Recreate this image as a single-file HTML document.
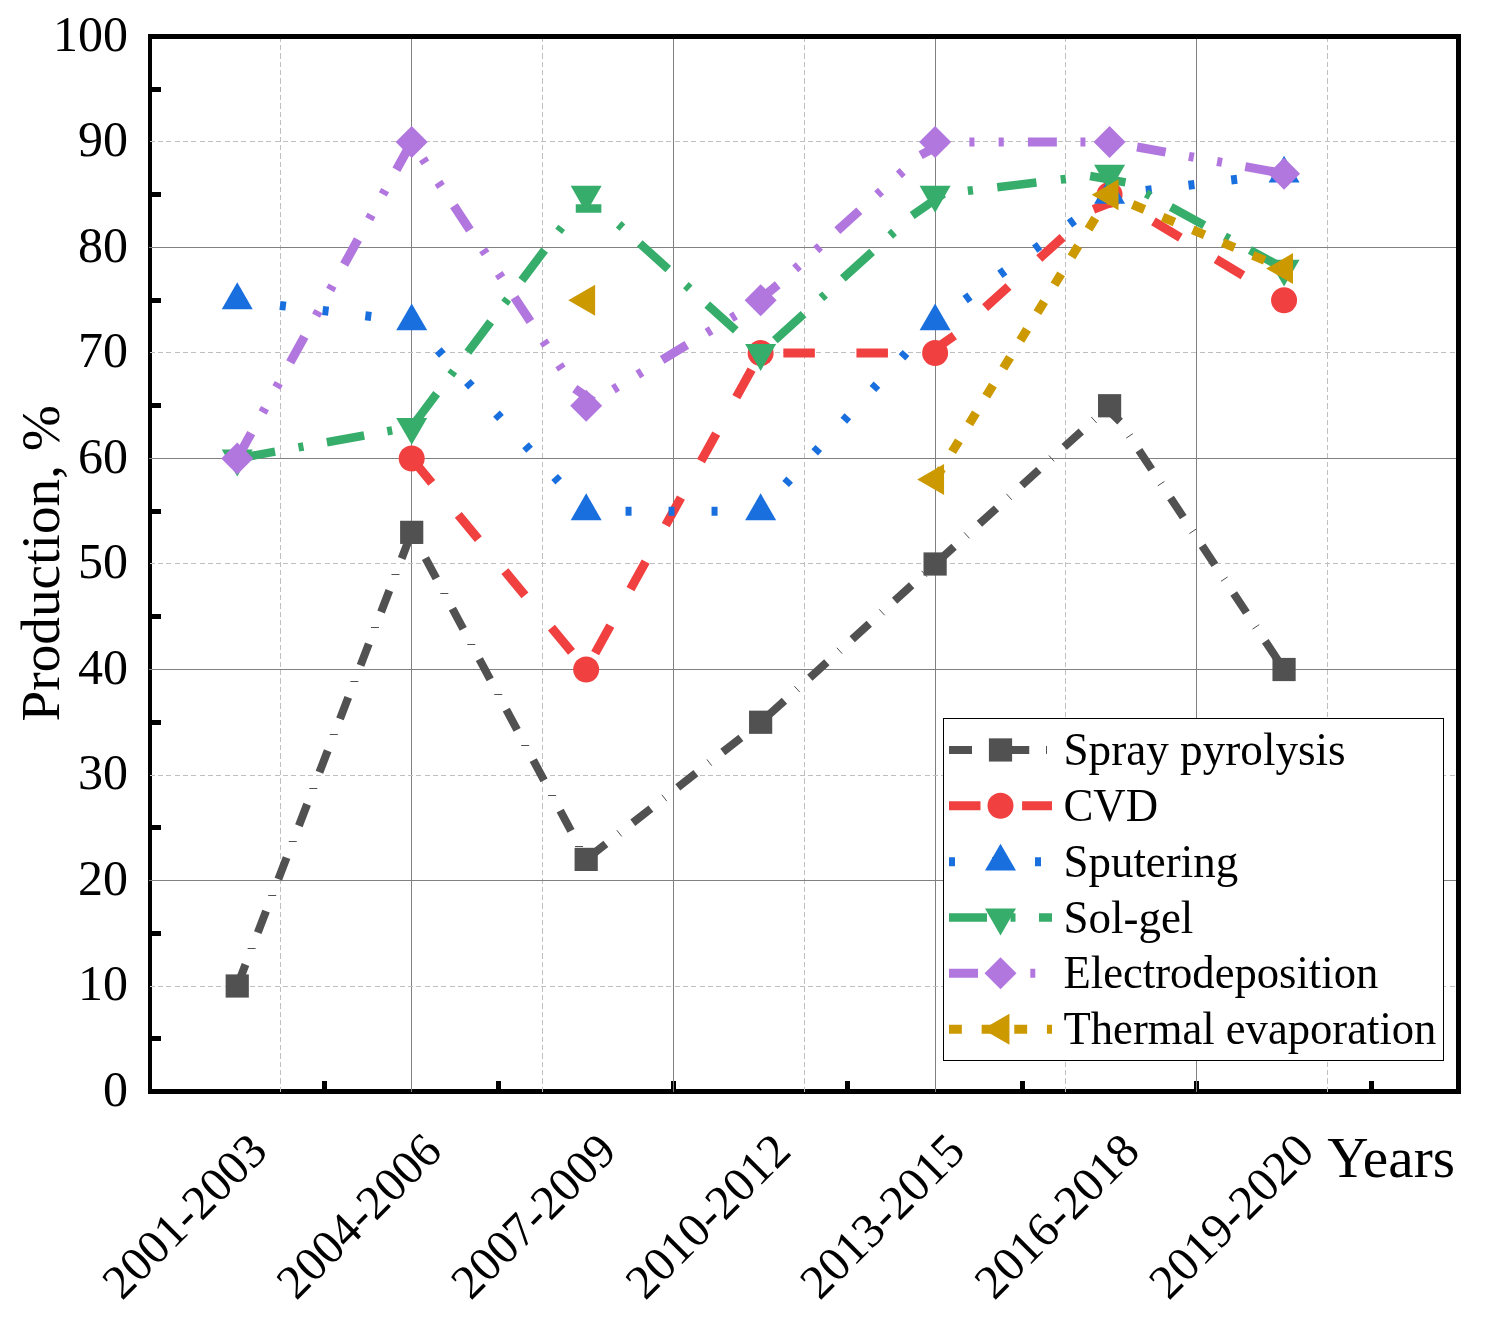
<!DOCTYPE html><html><head><meta charset="utf-8"><style>html,body{margin:0;padding:0;background:#fff;}svg{display:block;}text{font-family:"Liberation Serif",serif;fill:#000;}</style></head><body>
<svg width="1487" height="1342" viewBox="0 0 1487 1342">
<rect width="1487" height="1342" fill="#fff"/>
<rect x="148" y="34" width="4" height="1060" fill="#000"/>
<rect x="1456" y="34" width="5" height="1060" fill="#000"/>
<rect x="148" y="34" width="1313" height="5" fill="#000"/>
<rect x="148" y="1089" width="1313" height="5" fill="#000"/>
<rect x="152" y="1036" width="9" height="5" fill="#000"/>
<rect x="152" y="931" width="9" height="5" fill="#000"/>
<rect x="152" y="825" width="9" height="5" fill="#000"/>
<rect x="152" y="720" width="9" height="5" fill="#000"/>
<rect x="152" y="614" width="9" height="5" fill="#000"/>
<rect x="152" y="509" width="9" height="5" fill="#000"/>
<rect x="152" y="403" width="9" height="5" fill="#000"/>
<rect x="152" y="298" width="9" height="5" fill="#000"/>
<rect x="152" y="192" width="9" height="5" fill="#000"/>
<rect x="152" y="87" width="9" height="5" fill="#000"/>
<rect x="322" y="1081" width="5" height="8" fill="#000"/>
<rect x="496" y="1081" width="5" height="8" fill="#000"/>
<rect x="671" y="1081" width="5" height="8" fill="#000"/>
<rect x="845" y="1081" width="5" height="8" fill="#000"/>
<rect x="1020" y="1081" width="5" height="8" fill="#000"/>
<rect x="1194" y="1081" width="5" height="8" fill="#000"/>
<rect x="1369" y="1081" width="5" height="8" fill="#000"/>
<path d="M280.5 1092V1087M280.5 1084V1078M280.5 1075V1070M280.5 1067V1062M280.5 1059V1053M280.5 1050V1045M280.5 1042V1037M280.5 1034V1028M280.5 1025V1020M280.5 1017V1012M280.5 1009V1003M280.5 1000V995M280.5 992V987M280.5 984V978M280.5 975V970M280.5 967V962M280.5 959V953M280.5 950V945M280.5 942V937M280.5 934V928M280.5 925V920M280.5 917V912M280.5 909V903M280.5 900V895M280.5 892V887M280.5 884V878M280.5 875V870M280.5 867V862M280.5 859V853M280.5 850V845M280.5 842V837M280.5 834V828M280.5 825V820M280.5 817V812M280.5 809V803M280.5 800V795M280.5 792V787M280.5 784V778M280.5 775V770M280.5 767V762M280.5 759V753M280.5 750V745M280.5 742V737M280.5 734V728M280.5 725V720M280.5 717V712M280.5 709V703M280.5 700V695M280.5 692V687M280.5 684V678M280.5 675V670M280.5 667V662M280.5 659V653M280.5 650V645M280.5 642V637M280.5 634V628M280.5 625V620M280.5 617V612M280.5 609V603M280.5 600V595M280.5 592V587M280.5 584V578M280.5 575V570M280.5 567V562M280.5 559V553M280.5 550V545M280.5 542V537M280.5 534V528M280.5 525V520M280.5 517V512M280.5 509V503M280.5 500V495M280.5 492V487M280.5 484V478M280.5 475V470M280.5 467V462M280.5 459V453M280.5 450V445M280.5 442V437M280.5 434V428M280.5 425V420M280.5 417V412M280.5 409V403M280.5 400V395M280.5 392V387M280.5 384V378M280.5 375V370M280.5 367V362M280.5 359V353M280.5 350V345M280.5 342V337M280.5 334V328M280.5 325V320M280.5 317V312M280.5 309V303M280.5 300V295M280.5 292V287M280.5 284V278M280.5 275V270M280.5 267V262M280.5 259V253M280.5 250V245M280.5 242V237M280.5 234V228M280.5 225V220M280.5 217V212M280.5 209V203M280.5 200V195M280.5 192V187M280.5 184V178M280.5 175V170M280.5 167V162M280.5 159V153M280.5 150V145M280.5 142V137M280.5 134V128M280.5 125V120M280.5 117V112M280.5 109V103M280.5 100V95M280.5 92V87M280.5 84V78M280.5 75V70M280.5 67V62M280.5 59V53M280.5 50V45M280.5 42V39" stroke="#c0c0c0" stroke-width="1" fill="none"/>
<line x1="411.5" y1="1092" x2="411.5" y2="39" stroke="#808080" stroke-width="1"/>
<path d="M542.5 1092V1087M542.5 1084V1078M542.5 1075V1070M542.5 1067V1062M542.5 1059V1053M542.5 1050V1045M542.5 1042V1037M542.5 1034V1028M542.5 1025V1020M542.5 1017V1012M542.5 1009V1003M542.5 1000V995M542.5 992V987M542.5 984V978M542.5 975V970M542.5 967V962M542.5 959V953M542.5 950V945M542.5 942V937M542.5 934V928M542.5 925V920M542.5 917V912M542.5 909V903M542.5 900V895M542.5 892V887M542.5 884V878M542.5 875V870M542.5 867V862M542.5 859V853M542.5 850V845M542.5 842V837M542.5 834V828M542.5 825V820M542.5 817V812M542.5 809V803M542.5 800V795M542.5 792V787M542.5 784V778M542.5 775V770M542.5 767V762M542.5 759V753M542.5 750V745M542.5 742V737M542.5 734V728M542.5 725V720M542.5 717V712M542.5 709V703M542.5 700V695M542.5 692V687M542.5 684V678M542.5 675V670M542.5 667V662M542.5 659V653M542.5 650V645M542.5 642V637M542.5 634V628M542.5 625V620M542.5 617V612M542.5 609V603M542.5 600V595M542.5 592V587M542.5 584V578M542.5 575V570M542.5 567V562M542.5 559V553M542.5 550V545M542.5 542V537M542.5 534V528M542.5 525V520M542.5 517V512M542.5 509V503M542.5 500V495M542.5 492V487M542.5 484V478M542.5 475V470M542.5 467V462M542.5 459V453M542.5 450V445M542.5 442V437M542.5 434V428M542.5 425V420M542.5 417V412M542.5 409V403M542.5 400V395M542.5 392V387M542.5 384V378M542.5 375V370M542.5 367V362M542.5 359V353M542.5 350V345M542.5 342V337M542.5 334V328M542.5 325V320M542.5 317V312M542.5 309V303M542.5 300V295M542.5 292V287M542.5 284V278M542.5 275V270M542.5 267V262M542.5 259V253M542.5 250V245M542.5 242V237M542.5 234V228M542.5 225V220M542.5 217V212M542.5 209V203M542.5 200V195M542.5 192V187M542.5 184V178M542.5 175V170M542.5 167V162M542.5 159V153M542.5 150V145M542.5 142V137M542.5 134V128M542.5 125V120M542.5 117V112M542.5 109V103M542.5 100V95M542.5 92V87M542.5 84V78M542.5 75V70M542.5 67V62M542.5 59V53M542.5 50V45M542.5 42V39" stroke="#c0c0c0" stroke-width="1" fill="none"/>
<line x1="673.5" y1="1092" x2="673.5" y2="39" stroke="#808080" stroke-width="1"/>
<path d="M804.5 1092V1087M804.5 1084V1078M804.5 1075V1070M804.5 1067V1062M804.5 1059V1053M804.5 1050V1045M804.5 1042V1037M804.5 1034V1028M804.5 1025V1020M804.5 1017V1012M804.5 1009V1003M804.5 1000V995M804.5 992V987M804.5 984V978M804.5 975V970M804.5 967V962M804.5 959V953M804.5 950V945M804.5 942V937M804.5 934V928M804.5 925V920M804.5 917V912M804.5 909V903M804.5 900V895M804.5 892V887M804.5 884V878M804.5 875V870M804.5 867V862M804.5 859V853M804.5 850V845M804.5 842V837M804.5 834V828M804.5 825V820M804.5 817V812M804.5 809V803M804.5 800V795M804.5 792V787M804.5 784V778M804.5 775V770M804.5 767V762M804.5 759V753M804.5 750V745M804.5 742V737M804.5 734V728M804.5 725V720M804.5 717V712M804.5 709V703M804.5 700V695M804.5 692V687M804.5 684V678M804.5 675V670M804.5 667V662M804.5 659V653M804.5 650V645M804.5 642V637M804.5 634V628M804.5 625V620M804.5 617V612M804.5 609V603M804.5 600V595M804.5 592V587M804.5 584V578M804.5 575V570M804.5 567V562M804.5 559V553M804.5 550V545M804.5 542V537M804.5 534V528M804.5 525V520M804.5 517V512M804.5 509V503M804.5 500V495M804.5 492V487M804.5 484V478M804.5 475V470M804.5 467V462M804.5 459V453M804.5 450V445M804.5 442V437M804.5 434V428M804.5 425V420M804.5 417V412M804.5 409V403M804.5 400V395M804.5 392V387M804.5 384V378M804.5 375V370M804.5 367V362M804.5 359V353M804.5 350V345M804.5 342V337M804.5 334V328M804.5 325V320M804.5 317V312M804.5 309V303M804.5 300V295M804.5 292V287M804.5 284V278M804.5 275V270M804.5 267V262M804.5 259V253M804.5 250V245M804.5 242V237M804.5 234V228M804.5 225V220M804.5 217V212M804.5 209V203M804.5 200V195M804.5 192V187M804.5 184V178M804.5 175V170M804.5 167V162M804.5 159V153M804.5 150V145M804.5 142V137M804.5 134V128M804.5 125V120M804.5 117V112M804.5 109V103M804.5 100V95M804.5 92V87M804.5 84V78M804.5 75V70M804.5 67V62M804.5 59V53M804.5 50V45M804.5 42V39" stroke="#c0c0c0" stroke-width="1" fill="none"/>
<line x1="935.5" y1="1092" x2="935.5" y2="39" stroke="#808080" stroke-width="1"/>
<path d="M1065.5 1092V1087M1065.5 1084V1078M1065.5 1075V1070M1065.5 1067V1062M1065.5 1059V1053M1065.5 1050V1045M1065.5 1042V1037M1065.5 1034V1028M1065.5 1025V1020M1065.5 1017V1012M1065.5 1009V1003M1065.5 1000V995M1065.5 992V987M1065.5 984V978M1065.5 975V970M1065.5 967V962M1065.5 959V953M1065.5 950V945M1065.5 942V937M1065.5 934V928M1065.5 925V920M1065.5 917V912M1065.5 909V903M1065.5 900V895M1065.5 892V887M1065.5 884V878M1065.5 875V870M1065.5 867V862M1065.5 859V853M1065.5 850V845M1065.5 842V837M1065.5 834V828M1065.5 825V820M1065.5 817V812M1065.5 809V803M1065.5 800V795M1065.5 792V787M1065.5 784V778M1065.5 775V770M1065.5 767V762M1065.5 759V753M1065.5 750V745M1065.5 742V737M1065.5 734V728M1065.5 725V720M1065.5 717V712M1065.5 709V703M1065.5 700V695M1065.5 692V687M1065.5 684V678M1065.5 675V670M1065.5 667V662M1065.5 659V653M1065.5 650V645M1065.5 642V637M1065.5 634V628M1065.5 625V620M1065.5 617V612M1065.5 609V603M1065.5 600V595M1065.5 592V587M1065.5 584V578M1065.5 575V570M1065.5 567V562M1065.5 559V553M1065.5 550V545M1065.5 542V537M1065.5 534V528M1065.5 525V520M1065.5 517V512M1065.5 509V503M1065.5 500V495M1065.5 492V487M1065.5 484V478M1065.5 475V470M1065.5 467V462M1065.5 459V453M1065.5 450V445M1065.5 442V437M1065.5 434V428M1065.5 425V420M1065.5 417V412M1065.5 409V403M1065.5 400V395M1065.5 392V387M1065.5 384V378M1065.5 375V370M1065.5 367V362M1065.5 359V353M1065.5 350V345M1065.5 342V337M1065.5 334V328M1065.5 325V320M1065.5 317V312M1065.5 309V303M1065.5 300V295M1065.5 292V287M1065.5 284V278M1065.5 275V270M1065.5 267V262M1065.5 259V253M1065.5 250V245M1065.5 242V237M1065.5 234V228M1065.5 225V220M1065.5 217V212M1065.5 209V203M1065.5 200V195M1065.5 192V187M1065.5 184V178M1065.5 175V170M1065.5 167V162M1065.5 159V153M1065.5 150V145M1065.5 142V137M1065.5 134V128M1065.5 125V120M1065.5 117V112M1065.5 109V103M1065.5 100V95M1065.5 92V87M1065.5 84V78M1065.5 75V70M1065.5 67V62M1065.5 59V53M1065.5 50V45M1065.5 42V39" stroke="#c0c0c0" stroke-width="1" fill="none"/>
<line x1="1196.5" y1="1092" x2="1196.5" y2="39" stroke="#808080" stroke-width="1"/>
<path d="M1327.5 1092V1087M1327.5 1084V1078M1327.5 1075V1070M1327.5 1067V1062M1327.5 1059V1053M1327.5 1050V1045M1327.5 1042V1037M1327.5 1034V1028M1327.5 1025V1020M1327.5 1017V1012M1327.5 1009V1003M1327.5 1000V995M1327.5 992V987M1327.5 984V978M1327.5 975V970M1327.5 967V962M1327.5 959V953M1327.5 950V945M1327.5 942V937M1327.5 934V928M1327.5 925V920M1327.5 917V912M1327.5 909V903M1327.5 900V895M1327.5 892V887M1327.5 884V878M1327.5 875V870M1327.5 867V862M1327.5 859V853M1327.5 850V845M1327.5 842V837M1327.5 834V828M1327.5 825V820M1327.5 817V812M1327.5 809V803M1327.5 800V795M1327.5 792V787M1327.5 784V778M1327.5 775V770M1327.5 767V762M1327.5 759V753M1327.5 750V745M1327.5 742V737M1327.5 734V728M1327.5 725V720M1327.5 717V712M1327.5 709V703M1327.5 700V695M1327.5 692V687M1327.5 684V678M1327.5 675V670M1327.5 667V662M1327.5 659V653M1327.5 650V645M1327.5 642V637M1327.5 634V628M1327.5 625V620M1327.5 617V612M1327.5 609V603M1327.5 600V595M1327.5 592V587M1327.5 584V578M1327.5 575V570M1327.5 567V562M1327.5 559V553M1327.5 550V545M1327.5 542V537M1327.5 534V528M1327.5 525V520M1327.5 517V512M1327.5 509V503M1327.5 500V495M1327.5 492V487M1327.5 484V478M1327.5 475V470M1327.5 467V462M1327.5 459V453M1327.5 450V445M1327.5 442V437M1327.5 434V428M1327.5 425V420M1327.5 417V412M1327.5 409V403M1327.5 400V395M1327.5 392V387M1327.5 384V378M1327.5 375V370M1327.5 367V362M1327.5 359V353M1327.5 350V345M1327.5 342V337M1327.5 334V328M1327.5 325V320M1327.5 317V312M1327.5 309V303M1327.5 300V295M1327.5 292V287M1327.5 284V278M1327.5 275V270M1327.5 267V262M1327.5 259V253M1327.5 250V245M1327.5 242V237M1327.5 234V228M1327.5 225V220M1327.5 217V212M1327.5 209V203M1327.5 200V195M1327.5 192V187M1327.5 184V178M1327.5 175V170M1327.5 167V162M1327.5 159V153M1327.5 150V145M1327.5 142V137M1327.5 134V128M1327.5 125V120M1327.5 117V112M1327.5 109V103M1327.5 100V95M1327.5 92V87M1327.5 84V78M1327.5 75V70M1327.5 67V62M1327.5 59V53M1327.5 50V45M1327.5 42V39" stroke="#c0c0c0" stroke-width="1" fill="none"/>
<path d="M150 986.5H155M158 986.5H163M166 986.5H171M175 986.5H180M183 986.5H188M191 986.5H196M200 986.5H205M208 986.5H213M216 986.5H221M225 986.5H230M233 986.5H238M241 986.5H246M250 986.5H255M258 986.5H263M266 986.5H271M275 986.5H280M283 986.5H288M291 986.5H296M300 986.5H305M308 986.5H313M316 986.5H321M325 986.5H330M333 986.5H338M341 986.5H346M350 986.5H355M358 986.5H363M366 986.5H371M375 986.5H380M383 986.5H388M391 986.5H396M400 986.5H405M408 986.5H413M416 986.5H421M425 986.5H430M433 986.5H438M441 986.5H446M450 986.5H455M458 986.5H463M466 986.5H471M475 986.5H480M483 986.5H488M491 986.5H496M500 986.5H505M508 986.5H513M516 986.5H521M525 986.5H530M533 986.5H538M541 986.5H546M550 986.5H555M558 986.5H563M566 986.5H571M575 986.5H580M583 986.5H588M591 986.5H596M600 986.5H605M608 986.5H613M616 986.5H621M625 986.5H630M633 986.5H638M641 986.5H646M650 986.5H655M658 986.5H663M666 986.5H671M675 986.5H680M683 986.5H688M691 986.5H696M700 986.5H705M708 986.5H713M716 986.5H721M725 986.5H730M733 986.5H738M741 986.5H746M750 986.5H755M758 986.5H763M766 986.5H771M775 986.5H780M783 986.5H788M791 986.5H796M800 986.5H805M808 986.5H813M816 986.5H821M825 986.5H830M833 986.5H838M841 986.5H846M850 986.5H855M858 986.5H863M866 986.5H871M875 986.5H880M883 986.5H888M891 986.5H896M900 986.5H905M908 986.5H913M916 986.5H921M925 986.5H930M933 986.5H938M941 986.5H946M950 986.5H955M958 986.5H963M966 986.5H971M975 986.5H980M983 986.5H988M991 986.5H996M1000 986.5H1005M1008 986.5H1013M1016 986.5H1021M1025 986.5H1030M1033 986.5H1038M1041 986.5H1046M1050 986.5H1055M1058 986.5H1063M1066 986.5H1071M1075 986.5H1080M1083 986.5H1088M1091 986.5H1096M1100 986.5H1105M1108 986.5H1113M1116 986.5H1121M1125 986.5H1130M1133 986.5H1138M1141 986.5H1146M1150 986.5H1155M1158 986.5H1163M1166 986.5H1171M1175 986.5H1180M1183 986.5H1188M1191 986.5H1196M1200 986.5H1205M1208 986.5H1213M1216 986.5H1221M1225 986.5H1230M1233 986.5H1238M1241 986.5H1246M1250 986.5H1255M1258 986.5H1263M1266 986.5H1271M1275 986.5H1280M1283 986.5H1288M1291 986.5H1296M1300 986.5H1305M1308 986.5H1313M1316 986.5H1321M1325 986.5H1330M1333 986.5H1338M1341 986.5H1346M1350 986.5H1355M1358 986.5H1363M1366 986.5H1371M1375 986.5H1380M1383 986.5H1388M1391 986.5H1396M1400 986.5H1405M1408 986.5H1413M1416 986.5H1421M1425 986.5H1430M1433 986.5H1438M1441 986.5H1446M1450 986.5H1455" stroke="#c0c0c0" stroke-width="1" fill="none"/>
<line x1="149" y1="880.5" x2="1456" y2="880.5" stroke="#808080" stroke-width="1"/>
<path d="M150 775.5H155M158 775.5H163M166 775.5H171M175 775.5H180M183 775.5H188M191 775.5H196M200 775.5H205M208 775.5H213M216 775.5H221M225 775.5H230M233 775.5H238M241 775.5H246M250 775.5H255M258 775.5H263M266 775.5H271M275 775.5H280M283 775.5H288M291 775.5H296M300 775.5H305M308 775.5H313M316 775.5H321M325 775.5H330M333 775.5H338M341 775.5H346M350 775.5H355M358 775.5H363M366 775.5H371M375 775.5H380M383 775.5H388M391 775.5H396M400 775.5H405M408 775.5H413M416 775.5H421M425 775.5H430M433 775.5H438M441 775.5H446M450 775.5H455M458 775.5H463M466 775.5H471M475 775.5H480M483 775.5H488M491 775.5H496M500 775.5H505M508 775.5H513M516 775.5H521M525 775.5H530M533 775.5H538M541 775.5H546M550 775.5H555M558 775.5H563M566 775.5H571M575 775.5H580M583 775.5H588M591 775.5H596M600 775.5H605M608 775.5H613M616 775.5H621M625 775.5H630M633 775.5H638M641 775.5H646M650 775.5H655M658 775.5H663M666 775.5H671M675 775.5H680M683 775.5H688M691 775.5H696M700 775.5H705M708 775.5H713M716 775.5H721M725 775.5H730M733 775.5H738M741 775.5H746M750 775.5H755M758 775.5H763M766 775.5H771M775 775.5H780M783 775.5H788M791 775.5H796M800 775.5H805M808 775.5H813M816 775.5H821M825 775.5H830M833 775.5H838M841 775.5H846M850 775.5H855M858 775.5H863M866 775.5H871M875 775.5H880M883 775.5H888M891 775.5H896M900 775.5H905M908 775.5H913M916 775.5H921M925 775.5H930M933 775.5H938M941 775.5H946M950 775.5H955M958 775.5H963M966 775.5H971M975 775.5H980M983 775.5H988M991 775.5H996M1000 775.5H1005M1008 775.5H1013M1016 775.5H1021M1025 775.5H1030M1033 775.5H1038M1041 775.5H1046M1050 775.5H1055M1058 775.5H1063M1066 775.5H1071M1075 775.5H1080M1083 775.5H1088M1091 775.5H1096M1100 775.5H1105M1108 775.5H1113M1116 775.5H1121M1125 775.5H1130M1133 775.5H1138M1141 775.5H1146M1150 775.5H1155M1158 775.5H1163M1166 775.5H1171M1175 775.5H1180M1183 775.5H1188M1191 775.5H1196M1200 775.5H1205M1208 775.5H1213M1216 775.5H1221M1225 775.5H1230M1233 775.5H1238M1241 775.5H1246M1250 775.5H1255M1258 775.5H1263M1266 775.5H1271M1275 775.5H1280M1283 775.5H1288M1291 775.5H1296M1300 775.5H1305M1308 775.5H1313M1316 775.5H1321M1325 775.5H1330M1333 775.5H1338M1341 775.5H1346M1350 775.5H1355M1358 775.5H1363M1366 775.5H1371M1375 775.5H1380M1383 775.5H1388M1391 775.5H1396M1400 775.5H1405M1408 775.5H1413M1416 775.5H1421M1425 775.5H1430M1433 775.5H1438M1441 775.5H1446M1450 775.5H1455" stroke="#c0c0c0" stroke-width="1" fill="none"/>
<line x1="149" y1="669.5" x2="1456" y2="669.5" stroke="#808080" stroke-width="1"/>
<path d="M150 563.5H155M158 563.5H163M166 563.5H171M175 563.5H180M183 563.5H188M191 563.5H196M200 563.5H205M208 563.5H213M216 563.5H221M225 563.5H230M233 563.5H238M241 563.5H246M250 563.5H255M258 563.5H263M266 563.5H271M275 563.5H280M283 563.5H288M291 563.5H296M300 563.5H305M308 563.5H313M316 563.5H321M325 563.5H330M333 563.5H338M341 563.5H346M350 563.5H355M358 563.5H363M366 563.5H371M375 563.5H380M383 563.5H388M391 563.5H396M400 563.5H405M408 563.5H413M416 563.5H421M425 563.5H430M433 563.5H438M441 563.5H446M450 563.5H455M458 563.5H463M466 563.5H471M475 563.5H480M483 563.5H488M491 563.5H496M500 563.5H505M508 563.5H513M516 563.5H521M525 563.5H530M533 563.5H538M541 563.5H546M550 563.5H555M558 563.5H563M566 563.5H571M575 563.5H580M583 563.5H588M591 563.5H596M600 563.5H605M608 563.5H613M616 563.5H621M625 563.5H630M633 563.5H638M641 563.5H646M650 563.5H655M658 563.5H663M666 563.5H671M675 563.5H680M683 563.5H688M691 563.5H696M700 563.5H705M708 563.5H713M716 563.5H721M725 563.5H730M733 563.5H738M741 563.5H746M750 563.5H755M758 563.5H763M766 563.5H771M775 563.5H780M783 563.5H788M791 563.5H796M800 563.5H805M808 563.5H813M816 563.5H821M825 563.5H830M833 563.5H838M841 563.5H846M850 563.5H855M858 563.5H863M866 563.5H871M875 563.5H880M883 563.5H888M891 563.5H896M900 563.5H905M908 563.5H913M916 563.5H921M925 563.5H930M933 563.5H938M941 563.5H946M950 563.5H955M958 563.5H963M966 563.5H971M975 563.5H980M983 563.5H988M991 563.5H996M1000 563.5H1005M1008 563.5H1013M1016 563.5H1021M1025 563.5H1030M1033 563.5H1038M1041 563.5H1046M1050 563.5H1055M1058 563.5H1063M1066 563.5H1071M1075 563.5H1080M1083 563.5H1088M1091 563.5H1096M1100 563.5H1105M1108 563.5H1113M1116 563.5H1121M1125 563.5H1130M1133 563.5H1138M1141 563.5H1146M1150 563.5H1155M1158 563.5H1163M1166 563.5H1171M1175 563.5H1180M1183 563.5H1188M1191 563.5H1196M1200 563.5H1205M1208 563.5H1213M1216 563.5H1221M1225 563.5H1230M1233 563.5H1238M1241 563.5H1246M1250 563.5H1255M1258 563.5H1263M1266 563.5H1271M1275 563.5H1280M1283 563.5H1288M1291 563.5H1296M1300 563.5H1305M1308 563.5H1313M1316 563.5H1321M1325 563.5H1330M1333 563.5H1338M1341 563.5H1346M1350 563.5H1355M1358 563.5H1363M1366 563.5H1371M1375 563.5H1380M1383 563.5H1388M1391 563.5H1396M1400 563.5H1405M1408 563.5H1413M1416 563.5H1421M1425 563.5H1430M1433 563.5H1438M1441 563.5H1446M1450 563.5H1455" stroke="#c0c0c0" stroke-width="1" fill="none"/>
<line x1="149" y1="458.5" x2="1456" y2="458.5" stroke="#808080" stroke-width="1"/>
<path d="M150 352.5H155M158 352.5H163M166 352.5H171M175 352.5H180M183 352.5H188M191 352.5H196M200 352.5H205M208 352.5H213M216 352.5H221M225 352.5H230M233 352.5H238M241 352.5H246M250 352.5H255M258 352.5H263M266 352.5H271M275 352.5H280M283 352.5H288M291 352.5H296M300 352.5H305M308 352.5H313M316 352.5H321M325 352.5H330M333 352.5H338M341 352.5H346M350 352.5H355M358 352.5H363M366 352.5H371M375 352.5H380M383 352.5H388M391 352.5H396M400 352.5H405M408 352.5H413M416 352.5H421M425 352.5H430M433 352.5H438M441 352.5H446M450 352.5H455M458 352.5H463M466 352.5H471M475 352.5H480M483 352.5H488M491 352.5H496M500 352.5H505M508 352.5H513M516 352.5H521M525 352.5H530M533 352.5H538M541 352.5H546M550 352.5H555M558 352.5H563M566 352.5H571M575 352.5H580M583 352.5H588M591 352.5H596M600 352.5H605M608 352.5H613M616 352.5H621M625 352.5H630M633 352.5H638M641 352.5H646M650 352.5H655M658 352.5H663M666 352.5H671M675 352.5H680M683 352.5H688M691 352.5H696M700 352.5H705M708 352.5H713M716 352.5H721M725 352.5H730M733 352.5H738M741 352.5H746M750 352.5H755M758 352.5H763M766 352.5H771M775 352.5H780M783 352.5H788M791 352.5H796M800 352.5H805M808 352.5H813M816 352.5H821M825 352.5H830M833 352.5H838M841 352.5H846M850 352.5H855M858 352.5H863M866 352.5H871M875 352.5H880M883 352.5H888M891 352.5H896M900 352.5H905M908 352.5H913M916 352.5H921M925 352.5H930M933 352.5H938M941 352.5H946M950 352.5H955M958 352.5H963M966 352.5H971M975 352.5H980M983 352.5H988M991 352.5H996M1000 352.5H1005M1008 352.5H1013M1016 352.5H1021M1025 352.5H1030M1033 352.5H1038M1041 352.5H1046M1050 352.5H1055M1058 352.5H1063M1066 352.5H1071M1075 352.5H1080M1083 352.5H1088M1091 352.5H1096M1100 352.5H1105M1108 352.5H1113M1116 352.5H1121M1125 352.5H1130M1133 352.5H1138M1141 352.5H1146M1150 352.5H1155M1158 352.5H1163M1166 352.5H1171M1175 352.5H1180M1183 352.5H1188M1191 352.5H1196M1200 352.5H1205M1208 352.5H1213M1216 352.5H1221M1225 352.5H1230M1233 352.5H1238M1241 352.5H1246M1250 352.5H1255M1258 352.5H1263M1266 352.5H1271M1275 352.5H1280M1283 352.5H1288M1291 352.5H1296M1300 352.5H1305M1308 352.5H1313M1316 352.5H1321M1325 352.5H1330M1333 352.5H1338M1341 352.5H1346M1350 352.5H1355M1358 352.5H1363M1366 352.5H1371M1375 352.5H1380M1383 352.5H1388M1391 352.5H1396M1400 352.5H1405M1408 352.5H1413M1416 352.5H1421M1425 352.5H1430M1433 352.5H1438M1441 352.5H1446M1450 352.5H1455" stroke="#c0c0c0" stroke-width="1" fill="none"/>
<line x1="149" y1="247.5" x2="1456" y2="247.5" stroke="#808080" stroke-width="1"/>
<path d="M150 141.5H155M158 141.5H163M166 141.5H171M175 141.5H180M183 141.5H188M191 141.5H196M200 141.5H205M208 141.5H213M216 141.5H221M225 141.5H230M233 141.5H238M241 141.5H246M250 141.5H255M258 141.5H263M266 141.5H271M275 141.5H280M283 141.5H288M291 141.5H296M300 141.5H305M308 141.5H313M316 141.5H321M325 141.5H330M333 141.5H338M341 141.5H346M350 141.5H355M358 141.5H363M366 141.5H371M375 141.5H380M383 141.5H388M391 141.5H396M400 141.5H405M408 141.5H413M416 141.5H421M425 141.5H430M433 141.5H438M441 141.5H446M450 141.5H455M458 141.5H463M466 141.5H471M475 141.5H480M483 141.5H488M491 141.5H496M500 141.5H505M508 141.5H513M516 141.5H521M525 141.5H530M533 141.5H538M541 141.5H546M550 141.5H555M558 141.5H563M566 141.5H571M575 141.5H580M583 141.5H588M591 141.5H596M600 141.5H605M608 141.5H613M616 141.5H621M625 141.5H630M633 141.5H638M641 141.5H646M650 141.5H655M658 141.5H663M666 141.5H671M675 141.5H680M683 141.5H688M691 141.5H696M700 141.5H705M708 141.5H713M716 141.5H721M725 141.5H730M733 141.5H738M741 141.5H746M750 141.5H755M758 141.5H763M766 141.5H771M775 141.5H780M783 141.5H788M791 141.5H796M800 141.5H805M808 141.5H813M816 141.5H821M825 141.5H830M833 141.5H838M841 141.5H846M850 141.5H855M858 141.5H863M866 141.5H871M875 141.5H880M883 141.5H888M891 141.5H896M900 141.5H905M908 141.5H913M916 141.5H921M925 141.5H930M933 141.5H938M941 141.5H946M950 141.5H955M958 141.5H963M966 141.5H971M975 141.5H980M983 141.5H988M991 141.5H996M1000 141.5H1005M1008 141.5H1013M1016 141.5H1021M1025 141.5H1030M1033 141.5H1038M1041 141.5H1046M1050 141.5H1055M1058 141.5H1063M1066 141.5H1071M1075 141.5H1080M1083 141.5H1088M1091 141.5H1096M1100 141.5H1105M1108 141.5H1113M1116 141.5H1121M1125 141.5H1130M1133 141.5H1138M1141 141.5H1146M1150 141.5H1155M1158 141.5H1163M1166 141.5H1171M1175 141.5H1180M1183 141.5H1188M1191 141.5H1196M1200 141.5H1205M1208 141.5H1213M1216 141.5H1221M1225 141.5H1230M1233 141.5H1238M1241 141.5H1246M1250 141.5H1255M1258 141.5H1263M1266 141.5H1271M1275 141.5H1280M1283 141.5H1288M1291 141.5H1296M1300 141.5H1305M1308 141.5H1313M1316 141.5H1321M1325 141.5H1330M1333 141.5H1338M1341 141.5H1346M1350 141.5H1355M1358 141.5H1363M1366 141.5H1371M1375 141.5H1380M1383 141.5H1388M1391 141.5H1396M1400 141.5H1405M1408 141.5H1413M1416 141.5H1421M1425 141.5H1430M1433 141.5H1438M1441 141.5H1446M1450 141.5H1455" stroke="#c0c0c0" stroke-width="1" fill="none"/>
<path d="M237.24 986.00L245.49 964.53M257.79 932.57L266.04 911.10M278.34 879.13L286.59 857.66M298.89 825.70L307.14 804.23M319.44 772.26L327.69 750.80M339.99 718.83L348.24 697.36M360.54 665.39L368.79 643.93M381.09 611.96L389.34 590.49M401.64 558.52L409.89 537.06M425.45 558.12L436.28 578.41M452.40 608.63L463.22 628.92M479.34 659.14L490.17 679.44M506.29 709.65L517.12 729.95M533.24 760.17L544.06 780.46M560.18 810.68L571.01 830.97M587.77 858.15L605.85 843.93M632.78 822.76L650.86 808.55M677.79 787.38L695.87 773.17M722.80 752.00L740.88 737.79M767.39 716.13L784.43 700.68M809.80 677.67L826.83 662.22M852.20 639.21L869.24 623.75M894.61 600.74L911.64 585.29M937.01 562.28L954.05 546.83M979.42 523.82L996.45 508.37M1021.82 485.36L1038.86 469.90M1064.23 446.89L1081.26 431.44M1106.63 408.43L1120.07 421.61M1138.97 450.17L1151.66 469.35M1170.55 497.92L1183.24 517.10M1202.14 545.67L1214.83 564.85M1233.73 593.42L1246.42 612.60M1265.31 641.17L1278.00 660.35" stroke="#515151" stroke-width="8" fill="none" stroke-linecap="butt"/><path d="M247.64 948.50L255.64 948.50M268.19 895.50L276.19 895.50M288.74 841.50L296.74 841.50M309.29 788.50L317.29 788.50M329.84 734.50L337.84 734.50M350.39 681.50L358.39 681.50M370.94 627.50L378.94 627.50M391.49 574.50L399.49 574.50M413.39 543.50L421.39 543.50M440.34 593.50L448.34 593.50M467.28 644.50L475.28 644.50M494.23 694.50L502.23 694.50M521.18 745.50L529.18 745.50M548.12 795.50L556.12 795.50M575.07 846.50L583.07 846.50M616.84 830.20L621.79 836.49M661.85 794.82L666.80 801.11M706.86 759.44L711.80 765.73M751.87 724.06L756.81 730.35M794.42 686.21L799.80 692.14M836.83 647.75L842.20 653.67M879.23 609.29L884.61 615.21M921.64 570.82L927.01 576.75M964.04 532.36L969.42 538.29M1006.45 493.90L1011.82 499.82M1048.85 455.44L1054.23 461.36M1091.26 416.97L1096.63 422.90M1132.86 433.68L1126.19 438.10M1164.44 481.43L1157.77 485.84M1196.03 529.18L1189.36 533.59M1227.61 576.93L1220.94 581.34M1259.20 624.68L1252.53 629.09" stroke="#515151" stroke-width="1" fill="none" stroke-linecap="butt"/>
<rect x="225.64" y="974.40" width="23.2" height="23.2" fill="#515151"/>
<rect x="400.10" y="520.75" width="23.2" height="23.2" fill="#515151"/>
<rect x="574.57" y="847.80" width="23.2" height="23.2" fill="#515151"/>
<rect x="749.04" y="710.65" width="23.2" height="23.2" fill="#515151"/>
<rect x="923.51" y="552.40" width="23.2" height="23.2" fill="#515151"/>
<rect x="1097.99" y="394.15" width="23.2" height="23.2" fill="#515151"/>
<rect x="1272.46" y="657.90" width="23.2" height="23.2" fill="#515151"/>
<path d="M411.70 458.50L431.78 482.78M458.29 514.84L478.36 539.11M504.87 571.17L524.94 595.45M551.45 627.51L571.53 651.78M595.16 653.20L610.37 625.62M630.45 589.18L645.66 561.60M665.74 525.17L680.95 497.58M701.03 461.15L716.23 433.56M736.32 397.13L751.52 369.55M783.35 353.00L814.85 353.00M856.45 353.00L887.95 353.00M929.55 353.00L954.33 335.57M985.14 307.63L1008.47 286.46M1039.28 258.51L1062.62 237.35M1093.43 209.40L1117.88 199.76M1153.47 221.29L1180.43 237.59M1216.03 259.11L1242.98 275.41M1278.58 296.94L1284.06 300.25" stroke="#F14040" stroke-width="9" fill="none" stroke-linecap="butt"/>
<circle cx="411.70" cy="458.50" r="13.0" fill="#F14040"/>
<circle cx="586.17" cy="669.50" r="13.0" fill="#F14040"/>
<circle cx="760.64" cy="353.00" r="13.0" fill="#F14040"/>
<circle cx="935.12" cy="353.00" r="13.0" fill="#F14040"/>
<circle cx="1109.59" cy="194.75" r="13.0" fill="#F14040"/>
<circle cx="1284.06" cy="300.25" r="13.0" fill="#F14040"/>
<path d="M237.24 300.25L243.19 300.97M279.92 305.41L285.88 306.13M322.61 310.58L328.57 311.30M365.30 315.74L371.26 316.46M407.99 320.90L413.23 323.01M438.27 350.26L442.33 354.68M467.36 381.92L471.42 386.34M496.45 413.59L500.51 418.01M525.54 445.25L529.60 449.67M554.63 476.92L558.69 481.34M583.73 508.58L588.55 511.25M625.55 511.25L631.55 511.25M668.55 511.25L674.55 511.25M711.55 511.25L717.55 511.25M754.55 511.25L760.55 511.25M785.62 484.07L789.68 479.65M814.71 452.41L818.77 447.99M843.80 420.74L847.86 416.32M872.89 389.08L876.95 384.66M901.98 357.41L906.04 352.99M931.08 325.75L935.14 321.33M965.09 299.60L969.94 296.08M999.89 274.35L1004.74 270.82M1034.69 249.09L1039.55 245.57M1069.49 223.84L1074.35 220.32M1104.30 198.59L1109.15 195.06M1145.79 190.37L1151.74 189.65M1188.48 185.21L1194.43 184.49M1231.17 180.05L1237.12 179.33M1273.86 174.88L1279.81 174.16" stroke="#1A6FDF" stroke-width="9" fill="none" stroke-linecap="butt"/>
<polygon points="237.24,282.35 252.74,309.20 221.74,309.20" fill="#1A6FDF"/>
<polygon points="411.70,303.45 427.20,330.30 396.20,330.30" fill="#1A6FDF"/>
<polygon points="586.17,493.35 601.67,520.20 570.67,520.20" fill="#1A6FDF"/>
<polygon points="760.64,493.35 776.14,520.20 745.14,520.20" fill="#1A6FDF"/>
<polygon points="935.12,303.45 950.62,330.30 919.62,330.30" fill="#1A6FDF"/>
<polygon points="1109.59,176.85 1125.09,203.70 1094.09,203.70" fill="#1A6FDF"/>
<polygon points="1284.06,155.75 1299.56,182.60 1268.56,182.60" fill="#1A6FDF"/>
<path d="M237.24 458.50L275.08 451.63M298.49 447.39L303.47 446.49M326.87 442.24L364.18 435.47M387.26 431.28L392.17 430.39M413.87 423.98L436.65 393.66M450.74 374.92L453.74 370.93M467.83 352.19L490.62 321.87M504.71 303.13L507.71 299.14M521.80 280.39L544.58 250.08M558.67 231.34L561.67 227.35M575.76 208.60L601.38 208.54M618.71 224.26L622.40 227.61M639.74 243.34L668.25 269.19M685.88 285.18L689.63 288.59M707.26 304.58L735.79 330.46M753.44 346.47L757.20 349.87M774.85 340.12L803.56 314.08M821.31 297.97L825.09 294.55M842.84 278.44L872.10 251.90M890.20 235.49L894.05 232.00M912.15 215.58L943.55 193.73M967.81 190.80L972.97 190.17M997.22 187.24L1036.44 182.50M1060.69 179.56L1065.86 178.94M1090.11 176.01L1125.51 182.32M1146.01 193.47L1150.38 195.85M1170.88 207.01L1204.26 225.17M1224.90 236.41L1229.29 238.80M1249.93 250.03L1283.31 268.19" stroke="#37AD6B" stroke-width="8.5" fill="none" stroke-linecap="butt"/>
<polygon points="237.24,476.40 252.74,449.55 221.74,449.55" fill="#37AD6B"/>
<polygon points="411.70,444.75 427.20,417.90 396.20,417.90" fill="#37AD6B"/>
<polygon points="586.17,212.65 601.67,185.80 570.67,185.80" fill="#37AD6B"/>
<polygon points="760.64,370.90 776.14,344.05 745.14,344.05" fill="#37AD6B"/>
<polygon points="935.12,212.65 950.62,185.80 919.62,185.80" fill="#37AD6B"/>
<polygon points="1109.59,191.55 1125.09,164.70 1094.09,164.70" fill="#37AD6B"/>
<polygon points="1284.06,286.50 1299.56,259.65 1268.56,259.65" fill="#37AD6B"/>
<path d="M237.24 458.50L251.20 433.16M262.59 412.50L265.00 408.13M276.39 387.46L278.80 383.09M290.19 362.43L304.43 336.61M316.04 315.55L318.49 311.09M330.10 290.03L332.56 285.58M344.17 264.52L357.94 239.53M369.18 219.15L371.55 214.84M382.79 194.45L385.16 190.15M396.40 169.76L410.18 144.77M422.80 158.77L425.51 162.88M438.35 182.29L441.07 186.39M453.91 205.80L469.89 229.96M482.92 249.65L485.67 253.82M498.70 273.52L501.46 277.68M514.49 297.38L530.40 321.43M543.38 341.05L546.12 345.20M559.10 364.82L561.84 368.96M574.82 388.58L593.24 401.48M613.37 389.31L617.62 386.73M637.75 374.56L642.00 371.99M662.13 359.82L686.81 344.90M706.94 332.73L711.19 330.15M731.32 317.98L735.58 315.41M755.70 303.24L777.73 284.75M795.15 268.95L798.84 265.61M816.26 249.81L819.94 246.47M837.36 230.66L859.32 210.75M877.23 194.50L881.02 191.07M898.92 174.83L902.71 171.39M920.62 155.15L945.19 142.00M969.37 142.00L974.48 142.00M998.65 142.00L1003.77 142.00M1027.94 142.00L1056.85 142.00M1080.43 142.00L1085.41 142.00M1108.98 142.00L1113.90 142.78M1137.09 146.99L1165.63 152.17M1188.90 156.39L1193.82 157.28M1217.09 161.50L1222.01 162.39M1245.28 166.62L1273.81 171.79" stroke="#B177DE" stroke-width="9" fill="none" stroke-linecap="butt"/>
<polygon points="237.24,442.50 253.24,458.50 237.24,474.50 221.24,458.50" fill="#B177DE"/>
<polygon points="411.70,126.00 427.70,142.00 411.70,158.00 395.70,142.00" fill="#B177DE"/>
<polygon points="586.17,389.75 602.17,405.75 586.17,421.75 570.17,405.75" fill="#B177DE"/>
<polygon points="760.64,284.25 776.64,300.25 760.64,316.25 744.64,300.25" fill="#B177DE"/>
<polygon points="935.12,126.00 951.12,142.00 935.12,158.00 919.12,142.00" fill="#B177DE"/>
<polygon points="1109.59,126.00 1125.59,142.00 1109.59,158.00 1093.59,142.00" fill="#B177DE"/>
<polygon points="1284.06,157.65 1300.06,173.65 1284.06,189.65 1268.06,173.65" fill="#B177DE"/>
<path d="M935.12 479.60L941.83 468.64M952.16 451.77L958.87 440.81M969.21 423.93L975.92 412.97M986.26 396.10L992.97 385.14M1003.31 368.26L1010.02 357.31M1020.36 340.43L1027.07 329.47M1037.40 312.60L1044.12 301.64M1054.45 284.76L1061.16 273.80M1071.50 256.93L1078.21 245.97M1088.55 229.09L1095.26 218.14M1105.60 201.26L1114.39 196.78M1132.61 204.50L1144.45 209.51M1162.67 217.22L1174.50 222.23M1192.73 229.94L1204.56 234.95M1222.79 242.67L1234.62 247.68M1252.84 255.39L1264.68 260.40M1282.90 268.11L1284.06 268.60" stroke="#CC9900" stroke-width="9" fill="none" stroke-linecap="butt"/>
<polygon points="568.28,300.25 595.12,284.75 595.12,315.75" fill="#CC9900"/>
<polygon points="917.22,479.60 944.06,464.10 944.06,495.10" fill="#CC9900"/>
<polygon points="1091.69,194.75 1118.53,179.25 1118.53,210.25" fill="#CC9900"/>
<polygon points="1266.16,268.60 1293.00,253.10 1293.00,284.10" fill="#CC9900"/>
<text x="128" y="1105.80" font-size="50" text-anchor="end">0</text>
<text x="128" y="1000.30" font-size="50" text-anchor="end">10</text>
<text x="128" y="894.80" font-size="50" text-anchor="end">20</text>
<text x="128" y="789.30" font-size="50" text-anchor="end">30</text>
<text x="128" y="683.80" font-size="50" text-anchor="end">40</text>
<text x="128" y="578.30" font-size="50" text-anchor="end">50</text>
<text x="128" y="472.80" font-size="50" text-anchor="end">60</text>
<text x="128" y="367.30" font-size="50" text-anchor="end">70</text>
<text x="128" y="261.80" font-size="50" text-anchor="end">80</text>
<text x="128" y="156.30" font-size="50" text-anchor="end">90</text>
<text x="128" y="50.80" font-size="50" text-anchor="end">100</text>
<text x="0" y="0" font-size="48.2" text-anchor="end" transform="translate(269.54,1153.5) rotate(-45)">2001-2003</text>
<text x="0" y="0" font-size="48.2" text-anchor="end" transform="translate(444.00,1153.5) rotate(-45)">2004-2006</text>
<text x="0" y="0" font-size="48.2" text-anchor="end" transform="translate(618.47,1153.5) rotate(-45)">2007-2009</text>
<text x="0" y="0" font-size="48.2" text-anchor="end" transform="translate(792.94,1153.5) rotate(-45)">2010-2012</text>
<text x="0" y="0" font-size="48.2" text-anchor="end" transform="translate(967.41,1153.5) rotate(-45)">2013-2015</text>
<text x="0" y="0" font-size="48.2" text-anchor="end" transform="translate(1141.88,1153.5) rotate(-45)">2016-2018</text>
<text x="0" y="0" font-size="48.2" text-anchor="end" transform="translate(1316.36,1153.5) rotate(-45)">2019-2020</text>
<text x="0" y="0" font-size="55.3" transform="translate(59,721.5) rotate(-90)">Production, %</text>
<text x="1327.3" y="1176.5" font-size="57.2">Years</text>
<rect x="943.5" y="718.5" width="500" height="342" fill="#fff" stroke="#000" stroke-width="1"/>
<path d="M949.00 749.95L972.00 749.95M1006.25 749.95L1029.25 749.95" stroke="#515151" stroke-width="8" fill="none" stroke-linecap="butt"/><path d="M989.50 745.95L989.50 753.95M1046.50 745.95L1046.50 753.95" stroke="#515151" stroke-width="1" fill="none" stroke-linecap="butt"/>
<rect x="988.90" y="738.35" width="23.2" height="23.2" fill="#515151"/>
<path d="M949.00 805.80L980.50 805.80M1022.10 805.80L1052.00 805.80" stroke="#F14040" stroke-width="9" fill="none" stroke-linecap="butt"/>
<circle cx="1000.50" cy="805.80" r="13.0" fill="#F14040"/>
<path d="M949.00 861.65L955.00 861.65M992.00 861.65L998.00 861.65M1035.00 861.65L1041.00 861.65" stroke="#1A6FDF" stroke-width="9" fill="none" stroke-linecap="butt"/>
<polygon points="1000.50,843.75 1016.00,870.60 985.00,870.60" fill="#1A6FDF"/>
<path d="M949.00 917.50L987.00 917.50M1010.50 917.50L1015.50 917.50M1039.00 917.50L1052.00 917.50" stroke="#37AD6B" stroke-width="8.5" fill="none" stroke-linecap="butt"/>
<polygon points="1000.50,935.40 1016.00,908.55 985.00,908.55" fill="#37AD6B"/>
<path d="M949.00 973.35L978.00 973.35M1001.65 973.35L1006.65 973.35M1030.30 973.35L1035.30 973.35" stroke="#B177DE" stroke-width="9" fill="none" stroke-linecap="butt"/>
<polygon points="1000.50,957.35 1016.50,973.35 1000.50,989.35 984.50,973.35" fill="#B177DE"/>
<path d="M949.00 1029.20L961.85 1029.20M981.64 1029.20L994.49 1029.20M1014.28 1029.20L1027.13 1029.20M1046.92 1029.20L1052.00 1029.20" stroke="#CC9900" stroke-width="9" fill="none" stroke-linecap="butt"/>
<polygon points="982.60,1029.20 1009.45,1013.70 1009.45,1044.70" fill="#CC9900"/>
<g style="will-change:transform"><text x="0" y="0" font-size="46.5" transform="translate(1063.5,765.05) scale(0.971,1)">Spray pyrolysis</text><text x="0" y="0" font-size="46.5" transform="translate(1063.5,820.90) scale(0.963,1)">CVD</text><text x="0" y="0" font-size="46.5" transform="translate(1063.5,876.75) scale(0.966,1)">Sputering</text><text x="0" y="0" font-size="46.5" transform="translate(1063.5,932.60) scale(0.967,1)">Sol-gel</text><text x="0" y="0" font-size="46.5" transform="translate(1063.5,988.45) scale(0.96,1)">Electrodeposition</text><text x="0" y="0" font-size="46.5" transform="translate(1063.5,1044.30) scale(0.96,1)">Thermal evaporation</text></g>
</svg></body></html>
